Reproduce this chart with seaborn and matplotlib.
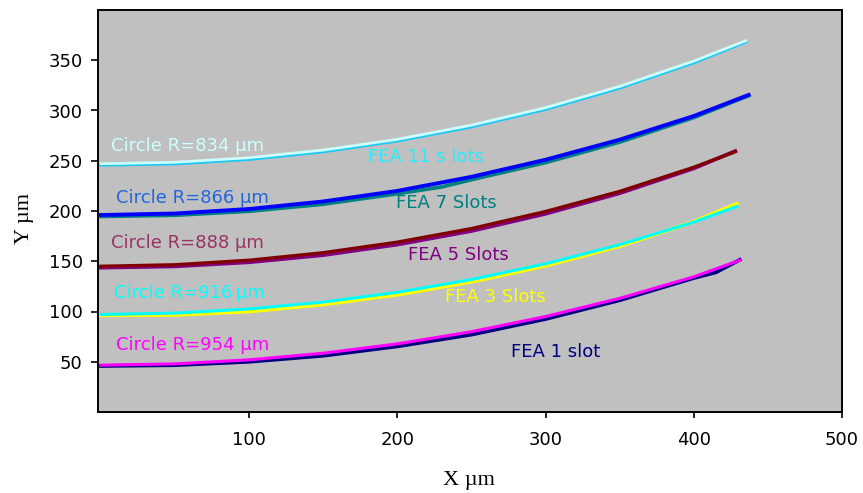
import matplotlib
matplotlib.use("Agg")
import matplotlib.pyplot as plt
import seaborn as sns

# ---- data (X µm, Y µm) ----
x_c834 = [0, 50, 100, 150, 200, 250, 300, 350, 400, 435]
y_c834 = [247, 248.5, 253, 260.6, 271.3, 285.4, 302.8, 324, 349.2, 369.4]
x_f11 = [0, 50, 100, 150, 200, 250, 300, 350, 400, 435]
y_f11 = [246.0, 247.3, 251.7, 259.3, 270.1, 284.1, 301.5, 322.7, 348.0, 368.5]

x_c866 = [0, 50, 100, 150, 200, 250, 300, 350, 400, 437]
y_c866 = [196, 197.5, 202, 209.5, 220, 234, 251, 271, 294.5, 315.5]
x_f7 = [0, 50, 100, 150, 200, 230, 250, 300, 350, 400, 437]
y_f7 = [194.6, 195.8, 199.8, 206.8, 217.2, 224.0, 231.2, 248.2, 268.6, 293.0, 314.8]

x_c888 = [0, 50, 100, 150, 200, 250, 300, 350, 400, 428]
y_c888 = [145, 146.5, 151, 158.5, 169, 182.5, 199.5, 219.5, 243.5, 259]
x_f5 = [0, 50, 100, 150, 200, 250, 300, 350, 400, 428]
y_f5 = [143.6, 144.9, 149.0, 156.1, 166.6, 180.1, 197.2, 217.7, 242.4, 259.6]

x_c916 = [0, 50, 100, 150, 200, 250, 300, 350, 400, 429]
y_c916 = [97, 98.4, 102.5, 109.4, 119.1, 131.8, 147.5, 166.5, 189, 204.5]
x_f3 = [0, 50, 100, 150, 200, 250, 300, 350, 400, 429]
y_f3 = [96.2, 96.6, 100.0, 107.0, 116.7, 129.5, 145.5, 165.0, 189.4, 207.2]

x_c954 = [0, 50, 100, 150, 200, 250, 300, 350, 400, 431]
y_c954 = [46.6, 47.9, 51.9, 58.5, 67.8, 79.9, 95.0, 113.1, 134.5, 151]
x_f1 = [0, 50, 100, 150, 200, 250, 300, 350, 400, 415, 431]
y_f1 = [45.8, 46.6, 50.0, 56.0, 65.3, 77.0, 92.5, 111.2, 133.3, 139.0, 151.4]

# label texts with anchor points
circle_labels = ["Circle R=834 µm", "Circle R=866 µm", "Circle R=888 µm",
                 "Circle R=916\u2009µm", "Circle R=954 µm"]
circle_lab_x = [7, 10, 6.5, 8.5, 10]
circle_lab_y = [265, 213, 168, 118, 67]
fea_labels = ["FEA 11 s lots", "FEA 7 Slots", "FEA 5 Slots", "FEA 3 Slots", "FEA 1 slot"]
fea_lab_x = [180, 199, 207, 232, 277]
fea_lab_y = [254, 208, 156, 114, 60]

x_ticks = [100, 200, 300, 400, 500]
y_ticks = [50, 100, 150, 200, 250, 300, 350]

# ---- styling ----
fea_colors = ["#19C8F5", "#008080", "#800080", "#FFFF00", "#000080"]
circle_colors = ["#CCFFFF", "#0000FF", "#800000", "#00FFFF", "#FF00FF"]
circle_lab_colors = ["#CCFFFF", "#2266DD", "#993366", "#00FFFF", "#FF00FF"]
fea_lab_colors = ["#22EEFF", "#008080", "#800080", "#FFFF00", "#000080"]

fig = plt.figure(figsize=(8.63, 4.93), dpi=100)
fig.patch.set_facecolor("white")
ax = fig.add_axes([98 / 863, 1 - 412 / 493, (842 - 98) / 863, (412 - 10) / 493])
ax.set_facecolor("#C0C0C0")

fea_x = [x_f11, x_f7, x_f5, x_f3, x_f1]
fea_y = [y_f11, y_f7, y_f5, y_f3, y_f1]
circ_x = [x_c834, x_c866, x_c888, x_c916, x_c954]
circ_y = [y_c834, y_c866, y_c888, y_c916, y_c954]
circ_lw = [2.0, 2.8, 2.4, 2.2, 2.2]

for xs, ys, c in zip(fea_x, fea_y, fea_colors):
    sns.lineplot(x=xs, y=ys, color=c, lw=2.7, ax=ax, sort=False, estimator=None)
for xs, ys, c, lw in zip(circ_x, circ_y, circle_colors, circ_lw):
    sns.lineplot(x=xs, y=ys, color=c, lw=lw, ax=ax, sort=False, estimator=None)

for t, x, y, c in zip(circle_labels, circle_lab_x, circle_lab_y, circle_lab_colors):
    ax.text(x, y, t, color=c, fontsize=13, ha="left", va="center",
            family=["DejaVu Sans"])
for t, x, y, c in zip(fea_labels, fea_lab_x, fea_lab_y, fea_lab_colors):
    ax.text(x, y, t, color=c, fontsize=13, ha="left", va="center",
            family=["DejaVu Sans"])

ax.set_xlim(-2, 500)
ax.set_ylim(0, 400)
ax.set_xticks(x_ticks)
ax.set_xticklabels([str(v) for v in x_ticks])
ax.set_yticks(y_ticks)
ax.set_yticklabels([str(v) for v in y_ticks])
ax.tick_params(axis="x", direction="out", length=4, width=1.2, pad=10,
               labelsize=13, colors="black")
ax.tick_params(axis="y", direction="out", length=5, width=1.2, pad=6,
               labelsize=13, colors="black")
for s in ax.spines.values():
    s.set_color("black")
    s.set_linewidth(1.4)
ax.grid(False)
ax.set_xlabel("")
ax.set_ylabel("")

fig.text(25 / 863, 1 - 218 / 493, "Y µm", rotation=90, ha="center", va="center",
         fontsize=16, family=["Liberation Serif"])
fig.text(469 / 863, 1 - 480 / 493, "X µm", ha="center", va="center",
         fontsize=16, family=["Liberation Serif"])

fig.savefig("out.png", dpi=100, facecolor="white")
